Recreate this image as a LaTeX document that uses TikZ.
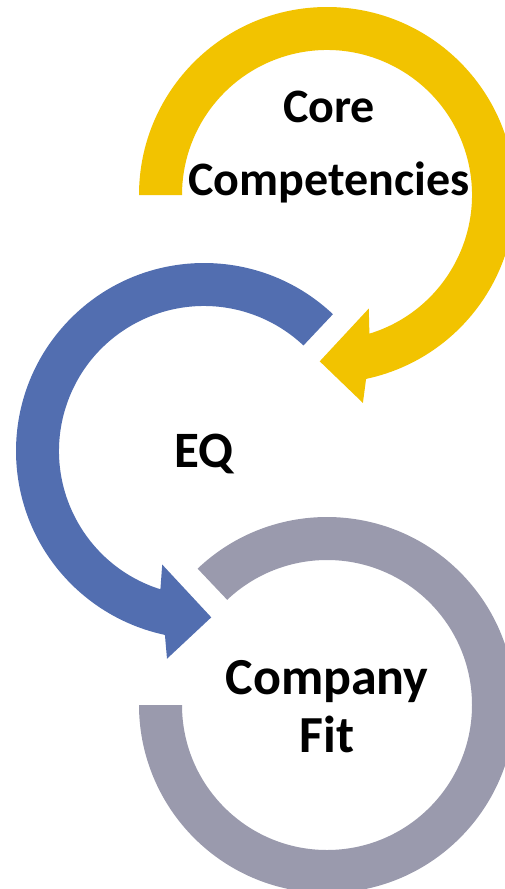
\documentclass[tikz,border=0pt]{standalone}
\usepackage{fontspec}
\setmainfont{Carlito}
\usepackage{tikz}
\usepackage{xcolor}
\definecolor{ccyellow}{RGB}{242,195,0}
\definecolor{eqblue}{RGB}{82,110,176}
\definecolor{fitgray}{RGB}{154,154,173}
\tikzstyle{ringtext} = [align=center, text=black, anchor=base, font=\bfseries\fontsize{48}{73}\selectfont]

\begin{document}
\begin{tikzpicture}[x=1pt, y=1pt]
\useasboundingbox (0,0) rectangle (505,-889);
\clip (0,0) rectangle (505,-889);

% Core competencies ring, head into the EQ ring
\begin{scope}[shift={(327,-195)}]
\fill[ccyellow] (180:188) arc[start angle=180, end angle=-78, radius=188]
  -- (-80.2:211) -- (-92.5:166.5) -- (-69.8:121) -- (-73:145)
  arc[start angle=-73, end angle=180, radius=145] -- cycle;
\end{scope}

% EQ ring, head into the company fit ring
\begin{scope}[shift={(204,-451)}]
\fill[eqblue] (46.7:188) arc[start angle=46.7, end angle=258, radius=188]
  -- (259.9:211) -- (272.5:166.5) -- (249.8:121) -- (252.5:145)
  arc[start angle=252.5, end angle=46.7, radius=145] -- cycle;
\end{scope}

% Company fit ring
\begin{scope}[shift={(327,-705)}]
\fill[fitgray] (133.5:188) arc[start angle=133.5, end angle=-180, radius=188]
  -- (180:145) arc[start angle=-180, end angle=133.5, radius=145] -- cycle;
\end{scope}

% Labels (base = last line)
\node[ringtext] (core) at (329,-195) {Core\\Competencies};
\node[ringtext, font=\bfseries\fontsize{51}{58}\selectfont] (eq) at (204,-467) {EQ};
\node[ringtext, font=\bfseries\fontsize{52}{58}\selectfont] (fit) at (327,-752) {Company\\Fit};
\end{tikzpicture}
\end{document}
